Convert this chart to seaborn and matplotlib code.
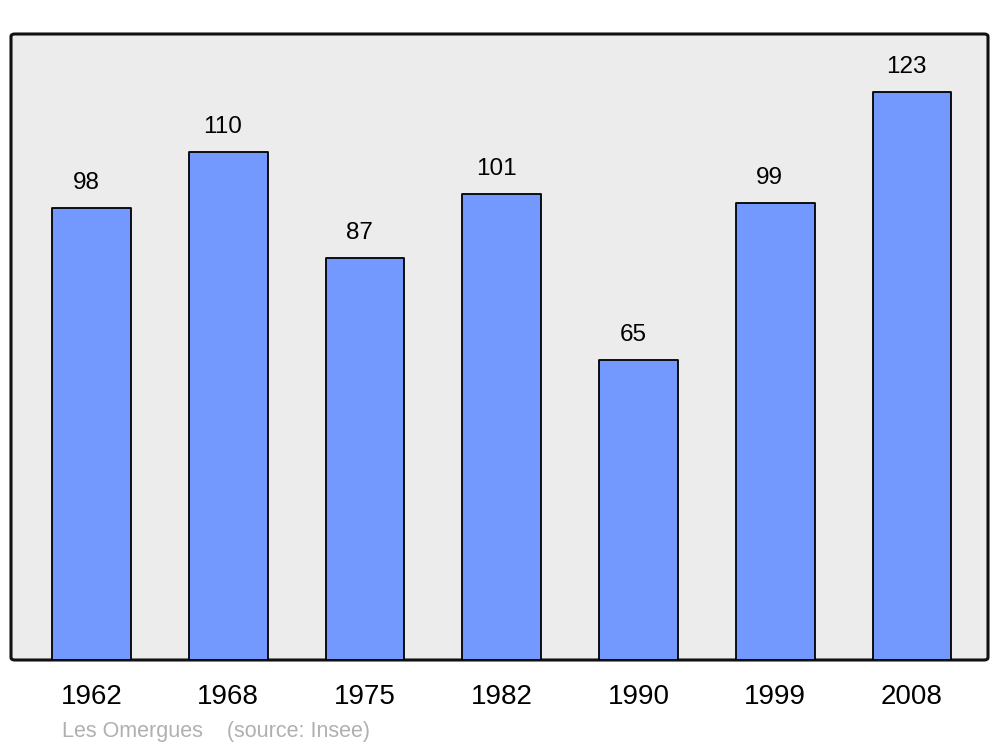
import matplotlib
matplotlib.use("Agg")
import matplotlib.pyplot as plt
import seaborn as sns
import pandas as pd
from matplotlib.patches import FancyBboxPatch

# population data
years = ["1962", "1968", "1975", "1982", "1990", "1999", "2008"]
population = [98, 110, 87, 101, 65, 99, 123]
commune = "Les Omergues"
source = "(source: Insee)"

df = pd.DataFrame({"year": years, "pop": population})

sns.set_style("white")
plt.rcParams["font.family"] = ["Liberation Sans", "DejaVu Sans"]

fig = plt.figure(figsize=(10, 7.47), dpi=100)
ax = fig.add_axes([11 / 1000, 1 - 660 / 747, 977 / 1000, 626 / 747])

sns.barplot(data=df, x="year", y="pop", color="#7399ff", saturation=1,
            width=0.575, edgecolor="black", linewidth=1.3, ax=ax)
for p in ax.patches:
    p.set_joinstyle("round")

for i, v in enumerate(population):
    ax.annotate(str(v), (i, v), xytext=(-4, 10), textcoords="offset points",
                ha="center", va="bottom", fontsize=17.5, color="black")

ax.set_xlim(-0.589, 6.556)
ax.set_ylim(0, 135.6)
ax.set_xlabel("")
ax.set_ylabel("")
ax.set_yticks([])
ax.tick_params(axis="x", length=0, labelsize=20, pad=17, labelcolor="black")

# background panel with rounded corners
ax.patch.set_visible(False)
for s in ax.spines.values():
    s.set_visible(False)
box = FancyBboxPatch((0, 0), 1, 1, boxstyle="round,pad=0,rounding_size=0.004",
                     transform=ax.transAxes, facecolor="#ececec",
                     edgecolor="#111111", linewidth=2.2, zorder=0,
                     clip_on=False)
ax.add_patch(box)

fig.text(62 / 1000, 1 - 731 / 747, commune + "    " + source,
         color="#b0b0b0", fontsize=15.5, va="center", ha="left")

fig.savefig("out.png", dpi=100, facecolor="white")
